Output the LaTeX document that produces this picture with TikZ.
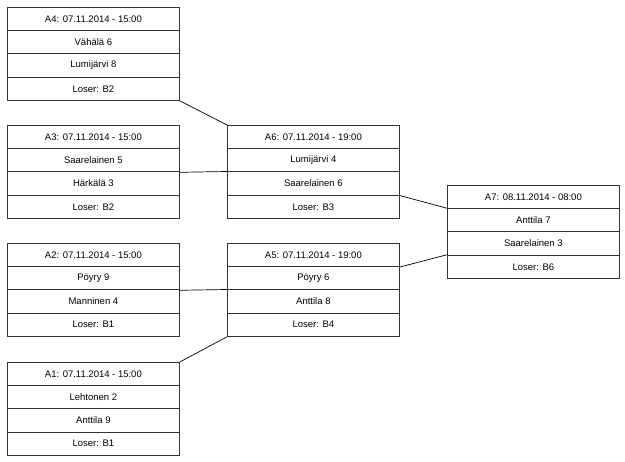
\documentclass[tikz,border=0pt]{standalone}
\usepackage{fontspec}
\setmainfont{Liberation Sans}
\begin{document}
\begin{tikzpicture}[x=1pt,y=-1pt,
  cell/.style={draw=black!80,line width=0.8pt,minimum width=172pt,minimum height=23.25pt,inner sep=0pt,anchor=north west,font=\fontsize{9.5}{11}\selectfont},
  link/.style={draw=black,line width=0.7pt}]
\useasboundingbox (0,0) rectangle (625,462);
\newcommand\mybox[7]{%
  \node[cell] (#1-1) at (#2,#3) {#4};
  \node[cell] (#1-2) at (#2,#3+23.25) {#5};
  \node[cell] (#1-3) at (#2,#3+46.5) {#6};
  \node[cell] (#1-4) at (#2,#3+69.75) {#7};}
\mybox{a4}{7}{7}{A4: 07.11.2014 - 15:00}{Vähälä 6}{Lumijärvi 8}{Loser: B2}
\mybox{a3}{7}{125}{A3: 07.11.2014 - 15:00}{Saarelainen 5}{Härkälä 3}{Loser: B2}
\mybox{a2}{7}{243}{A2: 07.11.2014 - 15:00}{Pöyry 9}{Manninen 4}{Loser: B1}
\mybox{a1}{7}{362}{A1: 07.11.2014 - 15:00}{Lehtonen 2}{Anttila 9}{Loser: B1}
\mybox{a6}{227}{125}{A6: 07.11.2014 - 19:00}{Lumijärvi 4}{Saarelainen 6}{Loser: B3}
\mybox{a5}{227}{243}{A5: 07.11.2014 - 19:00}{Pöyry 6}{Anttila 8}{Loser: B4}
\mybox{a7}{447}{185}{A7: 08.11.2014 - 08:00}{Anttila 7}{Saarelainen 3}{Loser: B6}
\draw[link] (a4-4.south east) -- (a6-1.north west);
\draw[link] (a3-2.south east) -- (a6-3.north west);
\draw[link] (a2-2.south east) -- (a5-3.north west);
\draw[link] (a1-1.north east) -- (a5-4.south west);
\draw[link] (a6-3.south east) -- (a7-2.north west);
\draw[link] (a5-1.south east) -- (a7-4.north west);
\end{tikzpicture}
\end{document}
